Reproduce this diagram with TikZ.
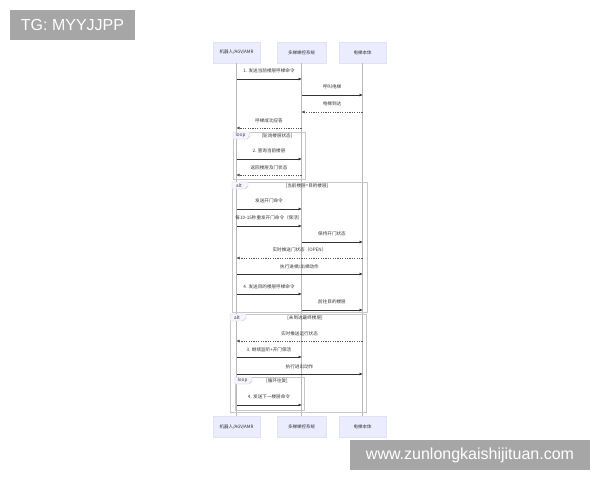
\documentclass[tikz,border=0pt]{standalone}
\usepackage{fontspec}
\setmainfont{Noto Sans CJK SC}
\newfontfamily\wmfont{Liberation Sans}
\usetikzlibrary{arrows.meta}

\definecolor{actorfill}{HTML}{ECECFF}
\definecolor{actorline}{HTML}{E2E2F6}
\definecolor{lifegray}{HTML}{B8B8B8}
\definecolor{msgdark}{HTML}{333333}
\definecolor{replygray}{HTML}{555555}
\definecolor{framegray}{HTML}{C8C8C8}
\definecolor{wmgray}{HTML}{A6A6A6}

\tikzset{
  actor/.style={draw=actorline, fill=actorfill, minimum width=47pt, minimum height=21pt, inner sep=0pt, text=msgdark, font=\fontsize{4.5}{5}\selectfont},
  lifeline/.style={draw=lifegray, line width=0.4pt},
  msg/.style={draw=msgdark, line width=0.5pt, -{Triangle[length=3pt,width=2.6pt]}},
  reply/.style={msg, draw=replygray, dash pattern=on 1.2pt off 1.2pt},
  lbl/.style={font=\fontsize{4.6}{5}\selectfont, text=msgdark, inner sep=0pt},
  frame/.style={draw=framegray, line width=0.4pt},
  tab/.style={draw=framegray, fill=actorfill!50, line width=0.4pt},
  wm/.style={fill=wmgray, text=white, inner sep=0pt, font=\wmfont\fontsize{16}{18}\selectfont}
}

\begin{document}
\begin{tikzpicture}[x=1pt, y=-1pt]
    \useasboundingbox (0,0) rectangle (600,480);

    % watermarks
    \node[wm, minimum width=125pt, minimum height=30pt] (tg) at (72.5,25) {TG: MYYJJPP};
    \node[wm, minimum width=240pt, minimum height=30pt] (site) at (470,455) {www.zunlongkaishijituan.com};

    % participants
    \node[actor] (robotTop) at (236.5,52.5) {机器人/AGV/AMR};
    \node[actor, minimum width=49pt] (ctrlTop) at (301.5,52.5) {多梯梯控系统};
    \node[actor] (liftTop) at (362.5,52.5) {电梯本体};
    \node[actor] (robotBot) at (236.5,427) {机器人/AGV/AMR};
    \node[actor, minimum width=49pt] (ctrlBot) at (301.5,427) {多梯梯控系统};
    \node[actor] (liftBot) at (362.5,427) {电梯本体};

    % lifelines
    \draw[lifeline] (robotTop) -- (robotBot);
    \draw[lifeline] (ctrlTop) -- (ctrlBot);
    \draw[lifeline] (liftTop) -- (liftBot);

    % frames
    \draw[frame] (233,132) rectangle (305,179);
    \draw[tab] (233,132) -- (250,132) -- (250,136) -- (247,139) -- (233,139) -- cycle;
    \node[lbl] (loopA) at (240.5,135.5) {loop};
    \node[lbl] (loopAcond) at (277,135.5) {[轮询楼层状态]};

    \draw[frame] (232,182) rectangle (367,312);
    \draw[tab] (232,182) -- (248,182) -- (248,186) -- (245,189) -- (232,189) -- cycle;
    \node[lbl] (altA) at (239,185.5) {alt};
    \node[lbl] (altAcond) at (307,185.5) {[当前楼层=目的楼层]};

    \draw[frame] (230,314) rectangle (366,412);
    \draw[tab] (230,314) -- (246,314) -- (246,318) -- (243,321) -- (230,321) -- cycle;
    \node[lbl] (altB) at (237,317.5) {alt};
    \node[lbl] (altBcond) at (305,317.5) {[未到达最终楼层]};

    \draw[frame] (235,377) rectangle (304,410);
    \draw[tab] (235,377) -- (252,377) -- (252,381) -- (249,384) -- (235,384) -- cycle;
    \node[lbl] (loopB) at (242.5,380.5) {loop};
    \node[lbl] (loopBcond) at (277,380.5) {[循环往复]};

    % message points
    \coordinate (r1) at (236.5,79);  \coordinate (c1) at (301.5,79);
    \coordinate (c2) at (301.5,95);  \coordinate (l2) at (362.5,95);
    \coordinate (l3) at (362.5,112); \coordinate (c3) at (301.5,112);
    \coordinate (c4) at (301.5,128); \coordinate (r4) at (236.5,128);
    \coordinate (r5) at (236.5,159); \coordinate (c5) at (301.5,159);
    \coordinate (c6) at (301.5,175); \coordinate (r6) at (236.5,175);
    \coordinate (r7) at (236.5,209); \coordinate (c7) at (301.5,209);
    \coordinate (r8) at (236.5,226); \coordinate (c8) at (301.5,226);
    \coordinate (c9) at (301.5,242); \coordinate (l9) at (362.5,242);
    \coordinate (l10) at (362.5,258); \coordinate (r10) at (236.5,258);
    \coordinate (r11) at (236.5,274); \coordinate (l11) at (362.5,274);
    \coordinate (r12) at (236.5,294); \coordinate (c12) at (301.5,294);
    \coordinate (c13) at (301.5,310); \coordinate (l13) at (362.5,310);
    \coordinate (l14) at (362.5,341); \coordinate (r14) at (236.5,341);
    \coordinate (r15) at (236.5,357); \coordinate (c15) at (301.5,357);
    \coordinate (r16) at (236.5,374); \coordinate (l16) at (362.5,374);
    \coordinate (r17) at (236.5,405); \coordinate (c17) at (301.5,405);

    % messages
    \draw[msg] (r1) -- (c1);
    \node[lbl] (m1) at (269,71) {1. 发送当前楼层呼梯命令};
    \draw[msg] (c2) -- (l2);
    \node[lbl] (m2) at (332,87) {呼叫电梯};
    \draw[reply] (l3) -- (c3);
    \node[lbl] (m3) at (332,104) {电梯到达};
    \draw[reply] (c4) -- (r4);
    \node[lbl] (m4) at (269,120.5) {呼梯成功应答};
    \draw[msg] (r5) -- (c5);
    \node[lbl] (m5) at (269,151) {2. 查询当前楼层};
    \draw[reply] (c6) -- (r6);
    \node[lbl] (m6) at (269,167.5) {返回楼层及门状态};
    \draw[msg] (r7) -- (c7);
    \node[lbl] (m7) at (269,201) {发送开门命令};
    \draw[msg] (r8) -- (c8);
    \node[lbl] (m8) at (269,218) {每10-15秒重发开门命令（保活）};
    \draw[msg] (c9) -- (l9);
    \node[lbl] (m9) at (332,234) {保持开门状态};
    \draw[reply] (l10) -- (r10);
    \node[lbl] (m10) at (299.5,250) {实时推送门状态（OPEN）};
    \draw[msg] (r11) -- (l11);
    \node[lbl] (m11) at (299.5,266.5) {执行进梯/出梯动作};
    \draw[msg] (r12) -- (c12);
    \node[lbl] (m12) at (269,286.5) {4. 发送目的楼层呼梯命令};
    \draw[msg] (c13) -- (l13);
    \node[lbl] (m13) at (332,302) {前往目的楼层};
    \draw[reply] (l14) -- (r14);
    \node[lbl] (m14) at (299.5,333.5) {实时推送运行状态};
    \draw[msg] (r15) -- (c15);
    \node[lbl] (m15) at (269,349.5) {3. 继续监听+开门保活};
    \draw[msg] (r16) -- (l16);
    \node[lbl] (m16) at (299.5,366.5) {执行进出动作};
    \draw[msg] (r17) -- (c17);
    \node[lbl] (m17) at (269,397) {4. 发送下一楼层命令};

\end{tikzpicture}
\end{document}
